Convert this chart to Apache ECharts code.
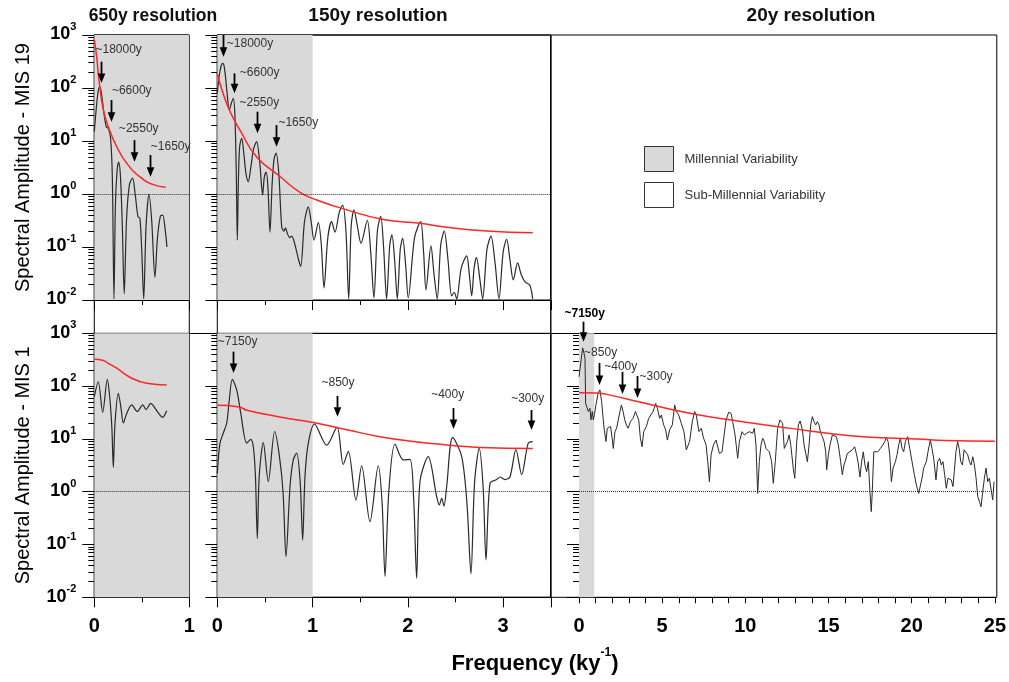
<!DOCTYPE html>
<html><head><meta charset="utf-8">
<script src="https://cdn.jsdelivr.net/npm/echarts@6/dist/echarts.min.js"></script>
<style>html,body{margin:0;padding:0;background:#fff}#c{width:1009px;height:682px}</style>
</head><body><div id="c"></div>
<script>
// ---------------- DATA (frequency ky^-1, spectral amplitude) ----------------
const mis19_650_spec = [[0,15],[0.02,40],[0.04,85],[0.057,106],[0.075,80],[0.1,35],[0.126,18.6],[0.15,17],[0.172,11],[0.19,2],[0.207,0.0105],[0.222,0.6],[0.24,2.8],[0.257,4.0],[0.275,2.2],[0.295,0.25],[0.315,0.013],[0.34,0.35],[0.37,1.5],[0.403,2.0],[0.43,1.0],[0.46,0.37],[0.48,0.35],[0.5,0.08],[0.52,0.0105],[0.545,0.25],[0.576,1.0],[0.605,0.3],[0.638,0.027],[0.665,0.15],[0.695,0.38],[0.72,0.4],[0.745,0.22],[0.765,0.10]];
const mis19_650_red = [[0,806],[0.025,390],[0.049,142],[0.095,38.5],[0.147,18.6],[0.236,7.8],[0.341,3.8],[0.481,2.1],[0.621,1.5],[0.752,1.34]];

const mis19_150_spec = [[0,80],[0.02,170],[0.04,260],[0.057,292],[0.075,240],[0.1,90],[0.126,38.5],[0.148,52],[0.168,64],[0.185,30],[0.2,2],[0.21,0.135],[0.222,2],[0.235,8],[0.256,11.2],[0.28,5.5],[0.3,2.5],[0.325,1.7],[0.35,3],[0.38,7],[0.413,9.7],[0.445,4],[0.476,0.96],[0.492,2.0],[0.511,2.6],[0.53,1.5],[0.553,0.19],[0.575,1.5],[0.595,4.5],[0.616,5.9],[0.645,2.5],[0.676,0.24],[0.70,0.2],[0.715,0.23],[0.735,0.18],[0.76,0.15],[0.78,0.16],[0.81,0.12],[0.85,0.06],[0.875,0.043],[0.915,0.3],[0.955,0.57],[0.985,0.3],[1.015,0.135],[1.06,0.29],[1.09,0.12],[1.12,0.017],[1.16,0.15],[1.20,0.30],[1.235,0.19],[1.28,0.45],[1.316,0.62],[1.35,0.2],[1.379,0.0105],[1.405,0.25],[1.434,0.50],[1.47,0.25],[1.508,0.117],[1.574,0.32],[1.61,0.08],[1.644,0.011],[1.68,0.2],[1.715,0.38],[1.745,0.1],[1.777,0.0105],[1.81,0.11],[1.833,0.17],[1.86,0.06],[1.889,0.0105],[1.92,0.09],[1.945,0.146],[1.975,0.05],[2.004,0.011],[2.07,0.15],[2.134,0.30],[2.165,0.08],[2.19,0.0155],[2.242,0.105],[2.275,0.03],[2.308,0.0105],[2.345,0.11],[2.382,0.20],[2.42,0.06],[2.46,0.012],[2.487,0.014],[2.512,0.0105],[2.56,0.04],[2.617,0.068],[2.645,0.03],[2.67,0.012],[2.695,0.04],[2.72,0.064],[2.755,0.025],[2.785,0.0105],[2.83,0.09],[2.872,0.16],[2.915,0.05],[2.956,0.0105],[3.0,0.08],[3.037,0.14],[3.07,0.06],[3.106,0.024],[3.152,0.05],[3.19,0.03],[3.23,0.022],[3.28,0.019],[3.31,0.0105]];
const mis19_150_red = [[0,184],[0.06,80],[0.133,36],[0.238,16],[0.413,5.0],[0.658,2.14],[0.868,1.07],[1.043,0.77],[1.316,0.53],[1.742,0.33],[2.127,0.28],[2.37,0.24],[2.827,0.20],[3.31,0.186]];

const mis1_650_spec = [[0,63],[0.042,121],[0.088,31.6],[0.137,134],[0.165,55],[0.186,14.8],[0.2,2.9],[0.218,20],[0.253,73],[0.28,40],[0.306,20],[0.34,30],[0.394,44],[0.453,33],[0.51,44],[0.545,36],[0.594,47],[0.64,38],[0.68,30],[0.72,25.6],[0.762,34]];
const mis1_650_red = [[0,322],[0.095,305],[0.147,270],[0.236,218],[0.376,147],[0.552,113],[0.762,105]];

const mis1_150_spec = [[0,2.2],[0.028,8.3],[0.063,12.9],[0.099,20],[0.126,55],[0.157,134],[0.204,84],[0.246,30.7],[0.309,8.3],[0.35,9.8],[0.378,7.1],[0.40,2],[0.42,0.13],[0.44,2],[0.483,8.5],[0.535,1.55],[0.602,13.8],[0.65,5],[0.69,1],[0.721,0.059],[0.763,1.24],[0.797,4],[0.833,5.4],[0.87,1.5],[0.896,0.12],[0.92,1.9],[0.955,8.3],[1.02,19],[1.148,7.6],[1.256,16.7],[1.322,3.3],[1.375,5.8],[1.455,0.69],[1.515,3.1],[1.602,0.27],[1.689,3.1],[1.73,0.6],[1.76,0.025],[1.8,1],[1.865,8.0],[1.952,4.0],[2.022,4.1],[2.06,0.8],[2.092,0.023],[2.127,1.55],[2.214,4.6],[2.302,0.81],[2.33,0.56],[2.355,0.75],[2.379,0.53],[2.407,1.24],[2.47,10.7],[2.565,4.6],[2.62,0.6],[2.662,0.028],[2.7,1.5],[2.749,6.6],[2.79,1.2],[2.82,0.051],[2.862,1.45],[2.932,1.7],[2.966,1.9],[3.019,1.7],[3.071,1.9],[3.134,6.3],[3.194,2.1],[3.263,8.3],[3.31,8.9]];
const mis1_150_red = [[0,43.6],[0.1,43],[0.238,39.6],[0.309,35],[0.658,26],[1.007,20.4],[1.358,14.9],[1.707,11],[2.057,8.9],[2.407,7.7],[2.756,6.9],[3.31,6.6]];

const mis1_20_spec = [[0,150],[0.22,530],[0.30,418],[0.36,336],[0.40,47],[0.50,44],[0.56,33],[0.66,38],[0.72,22.9],[0.80,33],[0.86,22.9],[0.92,28.4],[1.02,44],[1.16,76],[1.26,85],[1.36,51],[1.46,22.9],[1.52,14.8],[1.62,8.9],[1.70,15.9],[1.82,14.8],[1.90,17.1],[1.98,11],[2.06,6.6],[2.16,13.7],[2.26,15.9],[2.42,28.4],[2.55,44],[2.65,33],[2.75,22.9],[2.85,18.4],[2.95,15.9],[3.09,21.2],[3.25,24.5],[3.39,33],[3.49,35],[3.59,22.9],[3.69,10.3],[3.79,7.1],[3.89,13.7],[4.05,17.1],[4.19,24.5],[4.31,22.9],[4.45,33],[4.61,47],[4.71,38],[4.85,24.5],[4.95,28.4],[5.09,18.4],[5.21,14.8],[5.31,9.5],[5.45,14.8],[5.61,18.4],[5.75,44],[5.85,33],[5.99,28.4],[6.15,19.7],[6.31,13.7],[6.45,6.2],[6.55,5.7],[6.65,8.9],[6.81,21.2],[6.95,33],[7.05,28.4],[7.21,13.7],[7.35,15.9],[7.49,10.3],[7.64,7.7],[7.74,3.7],[7.84,1.55],[7.94,5.0],[8.08,7.7],[8.24,9.5],[8.44,5.3],[8.60,5.7],[8.70,10.3],[8.84,22.9],[9.00,32],[9.14,30.5],[9.24,21.2],[9.38,11.9],[9.54,4.3],[9.64,8.9],[9.80,13.7],[9.94,11.9],[10.08,12.8],[10.24,13.7],[10.44,12.8],[10.54,15.9],[10.64,7.7],[10.74,0.93],[10.84,3.7],[10.94,7.7],[11.04,10.3],[11.14,8.9],[11.24,6.6],[11.44,5.7],[11.58,3.7],[11.68,1.44],[11.80,3.7],[11.94,15.9],[12.08,22.9],[12.24,19.7],[12.34,6.6],[12.53,8.9],[12.63,11.9],[12.73,7.7],[12.89,2.6],[12.97,1.8],[13.09,8.9],[13.19,18.4],[13.29,21.9],[13.43,14.8],[13.53,7.7],[13.63,5.3],[13.73,3.7],[13.83,7.7],[13.93,18.4],[14.03,26.4],[14.13,21.2],[14.23,18.4],[14.33,21.2],[14.43,18.4],[14.53,12.8],[14.63,11],[14.73,8.9],[14.83,5.7],[14.89,2.6],[14.99,5.0],[15.09,7.7],[15.23,11.9],[15.33,12.8],[15.47,11],[15.59,7.7],[15.73,3.7],[15.83,2.1],[15.93,3.2],[16.03,4.0],[16.13,5.3],[16.23,5.0],[16.43,6.2],[16.57,7.1],[16.69,5.0],[16.77,3.7],[16.89,1.9],[16.99,3.7],[17.09,5.7],[17.19,3.2],[17.29,2.4],[17.39,3.7],[17.49,1.0],[17.57,0.42],[17.63,1.0],[17.72,5.7],[17.82,6.2],[17.96,5.7],[18.12,6.6],[18.26,7.7],[18.38,8.9],[18.48,10.6],[18.58,8.9],[18.68,5.0],[18.78,1.55],[18.88,2.8],[19.02,3.7],[19.12,5.0],[19.22,7.7],[19.32,10.3],[19.42,6.6],[19.52,5.7],[19.62,8.9],[19.76,11],[19.88,6.6],[20.02,3.7],[20.16,2.1],[20.28,1.34],[20.42,0.93],[20.52,0.87],[20.62,1.8],[20.72,2.8],[20.88,3.7],[20.98,5.7],[21.12,9.5],[21.22,6.6],[21.32,4.3],[21.46,1.67],[21.56,3.7],[21.68,4.3],[21.78,3.2],[21.88,3.7],[21.98,2.1],[22.08,1.16],[22.18,1.8],[22.28,1.93],[22.38,1.67],[22.48,1.25],[22.56,2.4],[22.66,5.7],[22.76,8.9],[22.85,6.6],[22.95,3.7],[23.05,3.2],[23.15,6.2],[23.25,5.7],[23.37,5.0],[23.47,3.7],[23.57,3.2],[23.67,4.6],[23.77,3.2],[23.87,1.8],[23.97,0.81],[24.07,0.65],[24.17,0.52],[24.27,1.0],[24.37,1.8],[24.47,2.8],[24.57,1.55],[24.67,1.8],[24.77,1.93],[24.87,0.7],[24.95,1.55]];
const mis1_20_red = [[0,75],[1.1,74],[2,66],[3.65,50],[6.65,30.5],[9.64,21.6],[12.6,16],[16.3,11.5],[18.6,10.4],[20.3,10.0],[22,9.3],[25,9.0]];

// annotated peaks: [label, frequency, arrow tip amplitude, arrow tail amplitude]
const mis19_650_peaks = [['~18000y',0.067,124,313],['~6600y',0.173,23.1,59.4],['~2550y',0.415,4.06,10.4],['~1650y',0.583,2.12,5.44]];
const mis19_150_peaks = [['~18000y',0.06,390,1000],['~6600y',0.172,79.4,189],['~2550y',0.42,14,35.7],['~1650y',0.619,7.8,20]];
const mis1_150_peaks = [['~7150y',0.16,177,449],['~850y',1.256,26.3,64.9],['~400y',2.47,15.4,38.5],['~300y',3.289,14.8,35.2]];
const mis1_20_peaks = [['~7150y',0.22,692,1660],['~850y',1.18,105,274],['~400y',2.57,70.8,187],['~300y',3.49,59.6,155]];

// millennial band limits (ky^-1)
const millennialBand = [0, 1];
const millennialBand20 = [0, 0.92];

const panelTitles = ['650y resolution', '150y resolution', '20y resolution'];
const yNames = ['Spectral Amplitude - MIS 19', 'Spectral Amplitude - MIS 1'];
const legendNames = ['Millennial Variability', 'Sub-Millennial Variability'];

// ---------------- STYLE (label offsets in px relative to arrow tail) ----------------
const offs_19_650 = [[18,-12],[21,-9],[5,-11],[21,-8]];
const offs_19_150 = [[27,9],[26,-1],[2,-9],[22,-2]];
const offs_1_150 = [[5,-10],[1,-13],[-5,-13],[-3,-11]];
const offs_1_20 = [[2,-8],[2,-10],[-1,-5],[19,1]];
const bold_1_20 = [true,false,false,false];

const FONT = '"Liberation Sans", Arial, Helvetica, sans-serif';
const BLACK = '#2a2a2a', RED = '#ff2626', GRAY = '#d9d9d9';

const G = {
  tl: {left:94.3, top:35, width:95, height:265},
  tm: {left:217.3, top:35, width:333.5, height:265},
  bl: {left:94.3, top:333.3, width:95, height:264},
  bm: {left:217.3, top:333.3, width:333.5, height:264},
  br: {left:579, top:333.3, width:417.8, height:264},
  fl: {left:94.3, top:35, width:95, height:562.3},
  fm: {left:217.3, top:35, width:333.5, height:562.3},
  fr: {left:550.8, top:35, width:446, height:562.3}
};
const order = ['tl','tm','bl','bm','br','fl','fm','fr'];
const grids = order.map((k,i) => Object.assign({show: i!==4, borderColor:'#000', borderWidth:1, backgroundColor:'transparent'}, G[k]));

const minorLog = [];
for (let e=-2; e<3; e++) for (let k=2; k<=9; k++) minorLog.push(Math.log10(k)+e);

const supRich = {
  b:{fontSize:18, fontWeight:'bold', fontFamily:FONT, color:'#000', lineHeight:22, verticalAlign:'bottom'},
  s:{fontSize:11, fontWeight:'bold', fontFamily:FONT, color:'#000', lineHeight:12, verticalAlign:'top'}
};
function yLog(gi, labels, name){
  return {type:'log', logBase:10, gridIndex:gi, min:0.01, max:1000, position:'left',
    axisLine:{show:true, onZero:false, lineStyle:{color:'#000', width:1}},
    axisTick:{show:true, length:12, lineStyle:{color:'#000'}},
    axisLabel:{show:labels, margin:18, padding:[0,0,5,0], formatter:v => '{b|10}{s|'+Math.round(Math.log10(v))+'}', rich:supRich},
    splitLine:{show:false},
    name: name || '', nameLocation:'middle', nameRotate:90, nameGap:61,
    nameTextStyle:{fontSize:20, fontFamily:FONT, color:'#000'}};
}
function yMinor(gi){
  return {type:'value', gridIndex:gi, min:-2, max:3, position:'left',
    axisLine:{show:false, onZero:false}, axisLabel:{show:false}, splitLine:{show:false},
    axisTick:{show:true, length:6, customValues:minorLog, lineStyle:{color:'#000'}}};
}
const xLabelStyle = {fontSize:20, fontWeight:'bold', fontFamily:FONT, color:'#000', margin:19};
function xAx(gi, max, labels, tickLen, every){
  return {type:'value', gridIndex:gi, min:0, max:max, interval:1, position:'bottom',
    axisLine:{show:true, onZero:false, lineStyle:{color:'#000'}},
    axisTick:{show:true, length:tickLen, lineStyle:{color:'#000'}},
    minorTick:{show: every===1, splitNumber:2, length:5, lineStyle:{color:'#000'}},
    axisLabel:Object.assign({show:labels, formatter:v => (Number.isInteger(v) && v % every === 0) ? String(v) : ''}, xLabelStyle),
    splitLine:{show:false}, minorSplitLine:{show:false}};
}
const xAxis = [
  xAx(0,1,false,10,1), xAx(1,3.5,false,10,1), xAx(2,1,true,10,1), xAx(3,3.5,true,10,1), xAx(4,25,true,6,5),
  {gridIndex:5, type:'value', show:false, min:0, max:1},
  {gridIndex:6, type:'value', show:false, min:0, max:1},
  {gridIndex:7, type:'value', show:false, min:0, max:1}
];
const yAxis = [
  yLog(0,true,yNames[0]), yLog(1,false), yLog(2,true,yNames[1]), yLog(3,false), yLog(4,false),
  yMinor(0), yMinor(1), yMinor(2), yMinor(3), yMinor(4),
  {gridIndex:5, type:'value', show:false, min:0, max:1},
  {gridIndex:6, type:'value', show:false, min:0, max:1},
  {gridIndex:7, type:'value', show:false, min:0, max:1}
];

const dotted = {silent:true, symbol:['none','none'], label:{show:false},
  lineStyle:{type:'dotted', color:'#333', width:1}, data:[{yAxis:1}]};

function band(i, lim){
  return {type:'custom', name:legendNames[0], xAxisIndex:i, yAxisIndex:i, silent:true, z:1,
    itemStyle:{color:GRAY, borderColor:'#333', borderWidth:1},
    data:[lim],
    renderItem:(p, api) => {
      const cs = p.coordSys;
      const x0 = api.coord([api.value(0), 1])[0];
      const x1 = api.coord([api.value(1), 1])[0];
      return {type:'rect', shape:{x:x0, y:cs.y, width:x1-x0, height:cs.height}, style:{fill:GRAY}};
    }};
}
function spec(i, data, sm){
  return {type:'line', xAxisIndex:i, yAxisIndex:i, data:data, symbol:'none', smooth:sm, z:3,
    lineStyle:{color:BLACK, width:1.2}, markLine:dotted, silent:true};
}
function red(i, data){
  return {type:'line', xAxisIndex:i, yAxisIndex:i, data:data, symbol:'none', smooth:true, z:4,
    lineStyle:{color:RED, width:1.5}, silent:true};
}
function arrows(i, peaks, offs, bold){
  return {type:'custom', xAxisIndex:i, yAxisIndex:i, clip:false, silent:true, z:6,
    data: peaks.map(p => [p[1], p[2], p[3]]),
    renderItem:(p, api) => {
      const k = p.dataIndex;
      const tip = api.coord([api.value(0), api.value(1)]);
      const tail = api.coord([api.value(0), api.value(2)]);
      const x = Math.round(tip[0]) + 0.5;
      const isBold = bold && bold[k];
      return {type:'group', children:[
        {type:'line', shape:{x1:x, y1:tail[1], x2:x, y2:tip[1]-7}, style:{stroke:'#000', lineWidth:1.8}},
        {type:'polygon', shape:{points:[[x-3.8, tip[1]-9.5],[x+3.8, tip[1]-9.5],[x, tip[1]]]}, style:{fill:'#000'}},
        {type:'text', x: tip[0]+offs[k][0], y: tail[1]+offs[k][1],
          style:{text:peaks[k][0], fill: isBold ? '#000' : '#333', fontSize:12, fontWeight: isBold ? 'bold':'normal', fontFamily:FONT, align:'center', verticalAlign:'middle'}}
      ]};
    }};
}

const series = [
  band(0, millennialBand), band(1, millennialBand), band(2, millennialBand), band(3, millennialBand), band(4, millennialBand20),
  {type:'custom', name:legendNames[1], xAxisIndex:4, yAxisIndex:4, data:[], renderItem:() => null,
    itemStyle:{color:'#fff', borderColor:'#333', borderWidth:1}},
  spec(0, mis19_650_spec, 0.3), red(0, mis19_650_red),
  spec(1, mis19_150_spec, 0.3), red(1, mis19_150_red),
  spec(2, mis1_650_spec, 0.3), red(2, mis1_650_red),
  spec(3, mis1_150_spec, 0.3), red(3, mis1_150_red),
  Object.assign(spec(4, mis1_20_spec, false), {lineStyle:{color:BLACK, width:1}, markLine:Object.assign({}, dotted, {data:[[{coord:[0,1]},{coord:[25,1]}]]})}),
  red(4, mis1_20_red),
  arrows(0, mis19_650_peaks, offs_19_650),
  arrows(1, mis19_150_peaks, offs_19_150),
  arrows(3, mis1_150_peaks, offs_1_150),
  arrows(4, mis1_20_peaks, offs_1_20, bold_1_20)
];

const titleStyle = {fontWeight:'bold', fontFamily:FONT, color:'#111'};
const option = {
  animation:false,
  backgroundColor:'#fff',
  grid: grids,
  xAxis: xAxis,
  yAxis: yAxis,
  title: [
    {text:panelTitles[0], left:148, top:2, textAlign:'center', textStyle:Object.assign({fontSize:17.5}, titleStyle)},
    {text:panelTitles[1], left:373, top:1, textAlign:'center', textStyle:Object.assign({fontSize:19}, titleStyle)},
    {text:panelTitles[2], left:806, top:1, textAlign:'center', textStyle:Object.assign({fontSize:19}, titleStyle)},
    {text:'{a|Frequency (ky}{s|-1}{a|)}', left:530, top:642, textAlign:'center',
      textStyle:{rich:{
        a:{fontSize:22, fontWeight:'bold', fontFamily:FONT, color:'#000', lineHeight:28, verticalAlign:'bottom'},
        s:{fontSize:12, fontWeight:'bold', fontFamily:FONT, color:'#000', lineHeight:14, verticalAlign:'top'}}}}
  ],
  legend: {orient:'vertical', left:639, top:141, itemWidth:29, itemHeight:25, itemGap:10, selectedMode:false,
    data:[
      {name:legendNames[0], icon:'rect', itemStyle:{color:GRAY, borderColor:'#333', borderWidth:1}},
      {name:legendNames[1], icon:'rect', itemStyle:{color:'#fff', borderColor:'#333', borderWidth:1}}
    ],
    textStyle:{fontSize:13, fontFamily:FONT, color:'#333', padding:[0,0,0,6]}},
  graphic: [
    {type:'line', silent:true, shape:{x1:83, y1:333.5, x2:997, y2:333.5}, style:{stroke:'#000', lineWidth:1}}
  ],
  series: series
};
const chart = echarts.init(document.getElementById('c'));
chart.setOption(option);
</script></body></html>
